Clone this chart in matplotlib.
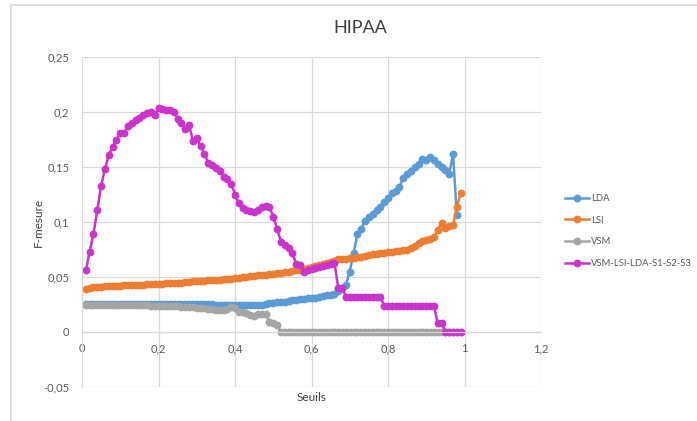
import matplotlib.pyplot as plt
import matplotlib.ticker as mticker
from matplotlib.patches import Rectangle

plt.rcParams['font.family'] = ['Lato', 'DejaVu Sans']

# thresholds 0.01 .. 0.99
seuils = [round(0.01 * i, 2) for i in range(1, 100)]

lda = [
    0.0252, 0.0252, 0.0252, 0.0252, 0.0252, 0.0252, 0.0252, 0.0252, 0.0252, 0.0252,
    0.0252, 0.0252, 0.0252, 0.0252, 0.0252, 0.0253, 0.0253, 0.0254, 0.0254, 0.0254,
    0.0254, 0.0254, 0.0254, 0.0254, 0.0254, 0.0254, 0.0254, 0.0253, 0.0253, 0.0253,
    0.0252, 0.0252, 0.0252, 0.0251, 0.025, 0.025, 0.025, 0.025, 0.025, 0.025,
    0.025, 0.025, 0.025, 0.0249, 0.0249, 0.0248, 0.025, 0.0255, 0.026, 0.0265,
    0.027, 0.0272, 0.0275, 0.028, 0.029, 0.0295, 0.030, 0.030, 0.0305, 0.031,
    0.031, 0.032, 0.033, 0.034, 0.034, 0.035, 0.037, 0.040, 0.043, 0.055,
    0.072, 0.089, 0.094, 0.101, 0.105, 0.107, 0.111, 0.114, 0.118, 0.122,
    0.126, 0.128, 0.132, 0.140, 0.144, 0.146, 0.150, 0.153, 0.157, 0.156,
    0.159, 0.156, 0.153, 0.150, 0.147, 0.144, 0.162, 0.106, None,
]

lsi = [
    0.039, 0.040, 0.041, 0.041, 0.041, 0.0415, 0.042, 0.042, 0.042, 0.042,
    0.0425, 0.0425, 0.043, 0.043, 0.043, 0.043, 0.0435, 0.0435, 0.044, 0.044,
    0.044, 0.0445, 0.0445, 0.045, 0.045, 0.045, 0.0455, 0.0455, 0.046, 0.046,
    0.046, 0.0465, 0.047, 0.047, 0.0475, 0.0475, 0.048, 0.048, 0.0485, 0.049,
    0.0495, 0.050, 0.050, 0.0505, 0.051, 0.0515, 0.052, 0.052, 0.0525, 0.053,
    0.0535, 0.054, 0.0545, 0.055, 0.0555, 0.056, 0.0565, 0.057, 0.058, 0.059,
    0.060, 0.061, 0.062, 0.063, 0.064, 0.065, 0.066, 0.066, 0.0665, 0.067,
    0.0675, 0.068, 0.068, 0.069, 0.070, 0.0705, 0.071, 0.0715, 0.072, 0.073,
    0.073, 0.0735, 0.074, 0.0742, 0.0745, 0.076, 0.078, 0.081, 0.083, 0.084,
    0.085, 0.086, 0.093, 0.099, 0.095, 0.096, 0.097, 0.114, 0.126,
]

vsm = [
    0.025, 0.025, 0.025, 0.025, 0.025, 0.025, 0.025, 0.025, 0.025, 0.025,
    0.0245, 0.0245, 0.0245, 0.0245, 0.0245, 0.0243, 0.0242, 0.024, 0.024, 0.024,
    0.0238, 0.0236, 0.0235, 0.0233, 0.0232, 0.023, 0.0228, 0.0227, 0.0225, 0.0222,
    0.0218, 0.0215, 0.021, 0.0205, 0.020, 0.020, 0.0202, 0.021, 0.023, 0.022,
    0.0185, 0.018, 0.017, 0.0155, 0.015, 0.016, 0.016, 0.016, 0.009, 0.008,
    0.006, 0.0, 0.0, 0.0, 0.0, 0.0, 0.0, 0.0, 0.0, 0.0,
    0.0, 0.0, 0.0, 0.0, 0.0, 0.0, 0.0, 0.0, 0.0, 0.0,
    0.0, 0.0, 0.0, 0.0, 0.0, 0.0, 0.0, 0.0, 0.0, 0.0,
    0.0, 0.0, 0.0, 0.0, 0.0, 0.0, 0.0, 0.0, 0.0, 0.0,
    0.0, 0.0, 0.0, 0.0, 0.0, 0.0, 0.0, 0.0, 0.0,
]

combo = [
    0.056, 0.073, 0.089, 0.111, 0.133, 0.148, 0.161, 0.168, 0.175, 0.181,
    0.181, 0.187, 0.190, 0.193, 0.195, 0.197, 0.199, 0.200, 0.197, 0.204,
    0.203, 0.202, 0.202, 0.200, 0.194, 0.190, 0.185, 0.188, 0.174, 0.176,
    0.169, 0.162, 0.154, 0.152, 0.149, 0.146, 0.141, 0.139, 0.135, 0.125,
    0.117, 0.113, 0.111, 0.110, 0.109, 0.111, 0.114, 0.115, 0.114, 0.105,
    0.094, 0.082, 0.079, 0.076, 0.072, 0.062, 0.061, 0.055, 0.056, 0.057,
    0.058, 0.059, 0.060, 0.061, 0.062, 0.063, 0.040, 0.040, 0.032, 0.032,
    0.032, 0.032, 0.032, 0.032, 0.032, 0.032, 0.032, 0.032, 0.024, 0.024,
    0.024, 0.024, 0.024, 0.024, 0.024, 0.024, 0.024, 0.024, 0.024, 0.024,
    0.024, 0.024, 0.008, 0.008, 0.0, 0.0, 0.0, 0.0, 0.0,
]

series = [
    ('LDA', lda, '#5B9BD5'),
    ('LSI', lsi, '#ED7D31'),
    ('VSM', vsm, '#A5A5A5'),
    ('VSM-LSI-LDA-S1-S2-S3', combo, '#CC33CC'),
]

grid_c = '#D9D9D9'
text_c = '#595959'

fig = plt.figure(figsize=(6.97, 4.21), dpi=100)
ax = fig.add_axes([82 / 697, 1 - 387 / 421, (541 - 82) / 697, (387 - 57) / 421])

for name, vals, col in series:
    xs = [s for s, v in zip(seuils, vals) if v is not None]
    ys = [v for v in vals if v is not None]
    ax.plot(xs, ys, color=col, lw=1.8, marker='o', ms=4.6,
            mec=col, mfc=col, label=name, clip_on=False)

ax.set_xlim(0, 1.2)
ax.set_ylim(-0.05, 0.25)
ax.set_xticks([0, 0.2, 0.4, 0.6, 0.8, 1.0, 1.2])
ax.set_yticks([-0.05, 0, 0.05, 0.1, 0.15, 0.2, 0.25])

comma = mticker.FuncFormatter(lambda v, p: ('%g' % round(v, 2)).replace('.', ','))
ax.xaxis.set_major_formatter(comma)
ax.yaxis.set_major_formatter(comma)

ax.grid(True, color=grid_c, lw=0.9)
ax.set_axisbelow(True)
for side in ['top', 'right']:
    ax.spines[side].set_visible(False)
ax.spines['left'].set_color(grid_c)
ax.spines['bottom'].set_color(grid_c)
ax.spines['bottom'].set_position(('data', 0))
ax.tick_params(length=0, labelsize=8, colors=text_c)
ax.tick_params(axis='x', pad=8)
ax.tick_params(axis='y', pad=9)

ax.set_title('HIPAA', fontsize=13, color='#404040', x=(360 - 82) / (541 - 82), pad=17)
ax.set_xlabel('Seuils', fontsize=8.5, color='#404040')
ax.xaxis.set_label_coords(0.5, -0.015)
ax.set_ylabel('F-mesure', fontsize=8.5, color='#404040')
ax.yaxis.set_label_coords(-0.083, 0.5)

ax.legend(loc='center left', bbox_to_anchor=(565 / 697, 1 - 231 / 421),
          bbox_transform=fig.transFigure, frameon=False, fontsize=6.8,
          labelcolor=text_c, handlelength=2.5, handletextpad=0.3,
          labelspacing=1.35, borderaxespad=0, borderpad=0)

# chart area frame
fig.add_artist(Rectangle((10.5 / 697, -0.05), 1.0, 1.05 - 5.5 / 421,
                         transform=fig.transFigure, fill=False,
                         ec=grid_c, lw=1.2))

fig.savefig('out.png', dpi=100)
